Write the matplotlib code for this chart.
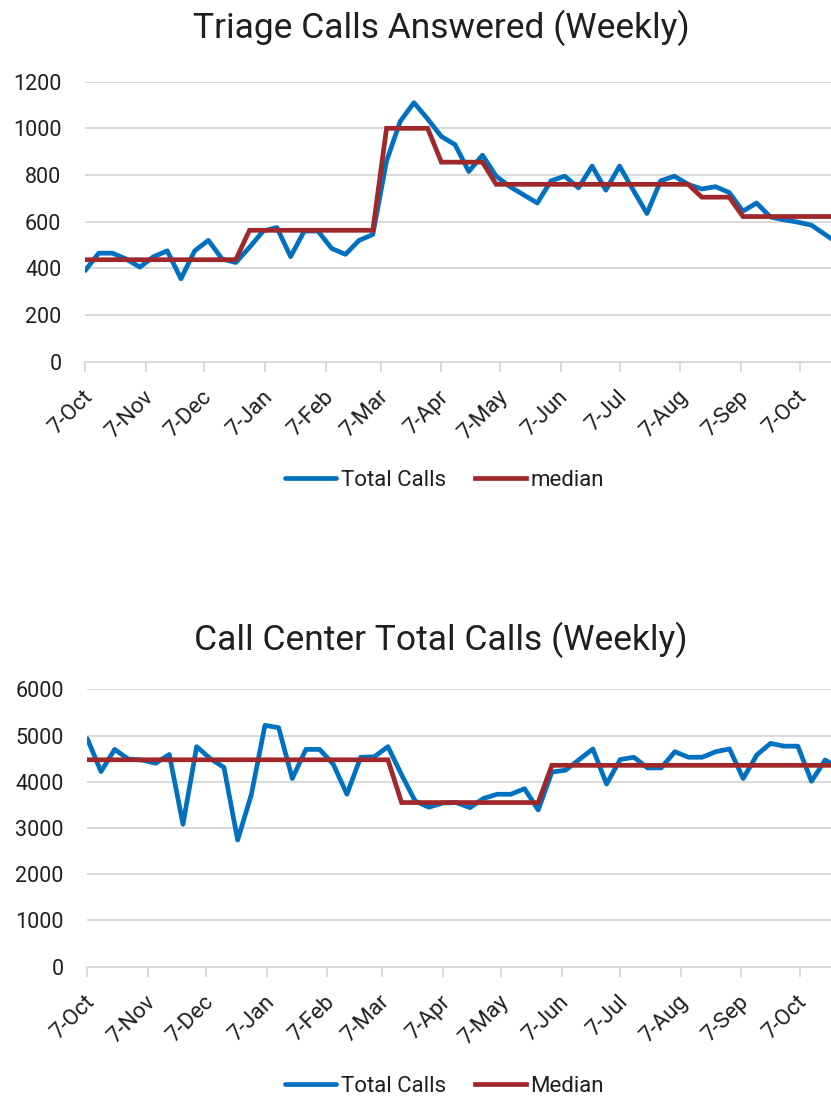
import datetime as dt
import matplotlib
matplotlib.use("Agg")
import matplotlib.pyplot as plt
import matplotlib.dates as mdates
import matplotlib.transforms as mtransforms
from matplotlib.ticker import FuncFormatter

plt.rcParams["font.family"] = ["Roboto", "DejaVu Sans"]

BLUE = "#0070C0"
RED = "#A0282B"
GRID = "#D9D9D9"
TEXT = "#1F1F1F"

START = dt.date(2018, 10, 7)
N_WEEKS = 56
weeks = [START + dt.timedelta(days=7 * i) for i in range(N_WEEKS)]

triage_total = [390, 465, 465, 440, 405, 450, 475, 355, 475, 520,
                440, 425, 490, 560, 575, 450, 560, 560, 485, 460,
                520, 545, 860, 1030, 1110, 1040, 965, 930, 815, 885,
                795, 750, 715, 680, 775, 795, 745, 838, 735, 838,
                735, 635, 775, 795, 760, 740, 750, 725, 645, 680,
                620, 608, 598, 585, 545, 505]
triage_median = [437] * 12 + [563] * 10 + [1000] * 4 + [855] * 4 \
    + [760] * 15 + [705] * 3 + [622] * 8

center_total = [4930, 4220, 4700, 4490, 4470, 4400, 4590, 3080, 4760, 4500,
                4310, 2740, 3720, 5220, 5170, 4070, 4700, 4700, 4380, 3730,
                4530, 4540, 4760, 4150, 3580, 3450, 3540, 3550, 3440, 3640,
                3730, 3730, 3850, 3390, 4210, 4250, 4480, 4710, 3950, 4480,
                4530, 4300, 4300, 4650, 4530, 4530, 4650, 4710, 4070, 4580,
                4830, 4770, 4770, 4010, 4470, 4300]
center_median = [4475] * 23 + [3550] * 11 + [4355] * 22

month_ticks = [dt.date(2018, m, 7) for m in (10, 11, 12)] + \
    [dt.date(2019, m, 7) for m in range(1, 11)]


def style_axis(ax, ymax, ystep):
    ax.set_ylim(0, ymax)
    ax.set_yticks(range(0, ymax + 1, ystep))
    ax.set_xlim(START, START + dt.timedelta(days=381))
    ax.set_xticks(month_ticks)
    ax.xaxis.set_major_formatter(FuncFormatter(
        lambda v, p: "%d-%s" % (mdates.num2date(v).day,
                                mdates.num2date(v).strftime("%b"))))
    ax.grid(axis="y", color=GRID, linewidth=1.4)
    ax.set_axisbelow(True)
    for s in ("top", "right", "left"):
        ax.spines[s].set_visible(False)
    ax.spines["bottom"].set_color(GRID)
    ax.spines["bottom"].set_linewidth(1.4)
    ax.tick_params(axis="y", length=0, labelsize=15.5, labelcolor=TEXT,
                   pad=17)
    ax.tick_params(axis="x", length=7, width=1.4, color=GRID,
                   labelsize=16, labelcolor=TEXT, pad=16)
    shift = mtransforms.ScaledTranslation(3 / 72, 0, fig.dpi_scale_trans)
    for lbl in ax.get_xticklabels():
        lbl.set_rotation(45)
        lbl.set_ha("right")
        lbl.set_va("center")
        lbl.set_rotation_mode("anchor")
        lbl.set_transform(lbl.get_transform() + shift)


def add_legend(ax, y):
    fig.legend(*ax.get_legend_handles_labels(), loc="center", ncol=2,
               bbox_to_anchor=(0.535, y), frameon=False, fontsize=16,
               handlelength=2.3, handletextpad=0.2, columnspacing=1.3,
               labelcolor=TEXT)


fig = plt.figure(figsize=(8.31, 10.99), dpi=100)

ax1 = fig.add_axes([0.1023, 0.6709, 0.8977, 0.2548])
ax1.plot(weeks, triage_total, color=BLUE, linewidth=3.4, label="Total Calls",
         solid_capstyle="round", solid_joinstyle="round", zorder=3)
ax1.plot(weeks, triage_median, color=RED, linewidth=3.4, label="median",
         solid_joinstyle="miter", zorder=4)
style_axis(ax1, 1200, 200)
fig.text(0.531, 0.9745, "Triage Calls Answered (Weekly)", ha="center",
         va="center", fontsize=25.5, color=TEXT)
add_legend(ax1, 0.5632)

ax2 = fig.add_axes([0.1051, 0.1204, 0.8949, 0.2524])
ax2.plot(weeks, center_total, color=BLUE, linewidth=3.4, label="Total Calls",
         solid_capstyle="round", solid_joinstyle="round", zorder=3)
ax2.plot(weeks, center_median, color=RED, linewidth=3.4, label="Median",
         solid_joinstyle="miter", zorder=4)
style_axis(ax2, 6000, 1000)
fig.text(0.531, 0.4177, "Call Center Total Calls (Weekly)", ha="center",
         va="center", fontsize=25.5, color=TEXT)
add_legend(ax2, 0.0115)

fig.savefig("out.png", dpi=100, facecolor="white")
